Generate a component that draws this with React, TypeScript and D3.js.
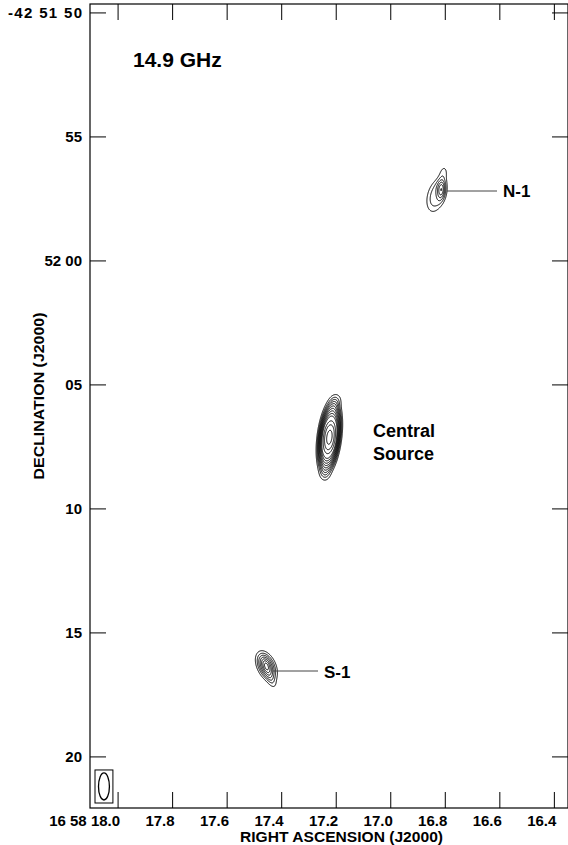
import React, { useMemo } from 'react';
import * as d3 from 'd3';

const W = 568;
const H = 845;

// Axis data
const RA_TICKS = [18.0, 17.8, 17.6, 17.4, 17.2, 17.0, 16.8, 16.6, 16.4];
const RA_TICK_LABELS = ['16 58 18.0', '17.8', '17.6', '17.4', '17.2', '17.0', '16.8', '16.6', '16.4'];
// Declination expressed as arcsec below -42 51 00
const DEC_TICKS = [50, 55, 60, 65, 70, 75, 80];
const DEC_TICK_LABELS = ['-42 51 50', '55', '52 00', '05', '10', '15', '20'];
const RA_DOMAIN = [18.103, 16.35];
const DEC_DOMAIN = [49.64, 82.06];
const DEC0_DEG = -42.86;

const CONTOUR_LEVELS = [1, 2, 3, 4, 5, 6, 7, 8, 9, 10, 12, 14, 17];

// Source centres
const SOURCE_NAMES = ['N-1', 'Central Source', 'S-1'];
const SOURCE_RA = [16.815, 17.226, 17.457];
const SOURCE_DEC = [57.1, 67.1, 76.33];

// Emission components (offsets & sizes in arcsec, pa in deg N->E)
const N1_COMPONENTS = [
  { amp: 4.0, dE: 0, dN: 0, major: 0.28, minor: 0.12, pa: -5, shape: 1 },
  { amp: 2.3, dE: 0.22, dN: -0.26, major: 0.48, minor: 0.25, pa: -15, shape: 2 },
  { amp: 1.3, dE: -0.08, dN: 0.65, major: 0.24, minor: 0.13, pa: -10, shape: 1 },
];
const CENTRAL_COMPONENTS = [
  { amp: 10, dE: 0, dN: 0, major: 0.97, minor: 0.3, pa: -7, shape: 2.5 },
  { amp: 9, dE: 0, dN: 0, major: 0.4, minor: 0.15, pa: -7, shape: 1 },
  { amp: 1.5, dE: -0.26, dN: 1.45, major: 0.22, minor: 0.16, pa: -20, shape: 1 },
  { amp: 1.2, dE: 0.18, dN: -1.5, major: 0.2, minor: 0.16, pa: 0, shape: 1 },
];
const S1_COMPONENTS = [
  { amp: 5, dE: 0, dN: 0, major: 0.4, minor: 0.23, pa: 25, shape: 1.5 },
  { amp: 2.5, dE: 0, dN: 0, major: 0.2, minor: 0.1, pa: 20, shape: 1 },
  { amp: 1.5, dE: -0.2, dN: -0.58, major: 0.25, minor: 0.12, pa: 25, shape: 1 },
];
const SOURCE_COMPONENTS = [N1_COMPONENTS, CENTRAL_COMPONENTS, S1_COMPONENTS];

// Restoring beam (arcsec)
const BEAM_MAJOR = 1.09;
const BEAM_MINOR = 0.44;
const BEAM_PA = 0;

const FONT = '"Liberation Sans", Arial, Helvetica, sans-serif';

const LEFT = 90, RIGHT = 568, TOP = 4, BOTTOM = 808;

export default function App() {
  const x = d3.scaleLinear().domain(RA_DOMAIN).range([LEFT, RIGHT]);
  const y = d3.scaleLinear().domain(DEC_DOMAIN).range([TOP, BOTTOM]);
  const pxPerArcsec = y(1) - y(0);
  const cosd = Math.cos((DEC0_DEG * Math.PI) / 180);

  const contourPaths = useMemo(() => {
    const out: string[] = [];
    SOURCE_COMPONENTS.forEach((comps, si) => {
      const ra0 = SOURCE_RA[si];
      const dec0 = SOURCE_DEC[si];
      const half = 2.6;
      const step = 0.02;
      const n = Math.round((2 * half) / step) + 1;
      const values = new Array(n * n);
      for (let j = 0; j < n; j++) {
        const dN = half - j * step;
        for (let i = 0; i < n; i++) {
          const dE = half - i * step;
          let s = 0;
          for (const c of comps) {
            const pa = (c.pa * Math.PI) / 180;
            const a = dN - c.dN;
            const b = dE - c.dE;
            const v = a * Math.cos(pa) + b * Math.sin(pa);
            const u = -a * Math.sin(pa) + b * Math.cos(pa);
            const q = 0.5 * ((u * u) / (c.minor * c.minor) + (v * v) / (c.major * c.major));
            s += c.amp * Math.exp(-Math.pow(q, c.shape));
          }
          values[j * n + i] = s;
        }
      }
      const polys = d3.contours().size([n, n]).thresholds(CONTOUR_LEVELS)(values);
      const proj = d3.geoTransform({
        point(px: number, py: number) {
          const dE = half - px * step;
          const dN = half - py * step;
          (this as any).stream.point(x(ra0 + dE / (15 * cosd)), y(dec0 - dN));
        },
      });
      const path = d3.geoPath(proj as any);
      polys.forEach((p) => {
        const d = path(p as any);
        if (d) out.push(d);
      });
    });
    return out;
  }, []);

  const tickLen = 16;
  const beamRx = (BEAM_MINOR / 2) * pxPerArcsec;
  const beamRy = (BEAM_MAJOR / 2) * pxPerArcsec;
  const boxW = 2 * beamRx + 7;
  const boxH = 2 * beamRy + 6;
  const boxX = LEFT + 5;
  const boxY = BOTTOM - 5 - boxH;

  return (
    <svg width={W} height={H} style={{ position: 'absolute', left: 0, top: 0, background: '#fff' }}
      fontFamily={FONT} fontWeight="bold">
      <rect x={0} y={0} width={W} height={H} fill="#fff" />
      {/* frame */}
      <rect x={LEFT} y={TOP} width={RIGHT - LEFT} height={BOTTOM - TOP} fill="none" stroke="#000" strokeWidth={1.2} />
      {/* RA ticks */}
      {RA_TICKS.map((t, i) => (
        <g key={'ra' + i}>
          <line x1={x(t)} x2={x(t)} y1={BOTTOM} y2={BOTTOM - tickLen} stroke="#000" strokeWidth={1} />
          <line x1={x(t)} x2={x(t)} y1={TOP} y2={TOP + tickLen} stroke="#000" strokeWidth={1} />
          <text x={x(t) + 2} y={826} fontSize={15} textAnchor="end" fill="#000">{RA_TICK_LABELS[i]}</text>
        </g>
      ))}
      {/* Dec ticks */}
      {DEC_TICKS.map((t, i) => (
        <g key={'dec' + i}>
          <line x1={LEFT} x2={LEFT + tickLen} y1={y(t)} y2={y(t)} stroke="#000" strokeWidth={1} />
          <line x1={RIGHT - tickLen} x2={RIGHT} y1={y(t)} y2={y(t)} stroke="#000" strokeWidth={1} />
          <text x={82} y={y(t) + 5.5} fontSize={15} textAnchor="end" fill="#000"
            {...(i === 0 ? { textLength: 74, lengthAdjust: 'spacing' } : {})}>{DEC_TICK_LABELS[i]}</text>
        </g>
      ))}
      {/* axis titles */}
      <text x={240} y={842} fontSize={14} textLength={203} lengthAdjust="spacingAndGlyphs" fill="#000">RIGHT ASCENSION (J2000)</text>
      <text transform="translate(44,396) rotate(-90)" fontSize={15} textAnchor="middle" textLength={167}
        lengthAdjust="spacingAndGlyphs" fill="#000">DECLINATION (J2000)</text>
      {/* frequency label */}
      <text x={133} y={67} fontSize={21} fill="#000">14.9 GHz</text>
      {/* contours */}
      <g fill="none" stroke="#000" strokeWidth={1}>
        {contourPaths.map((d, i) => (
          <path key={i} d={d} />
        ))}
      </g>
      {/* annotations */}
      <line x1={447} x2={497} y1={191} y2={191} stroke="#444" strokeWidth={1} />
      <text x={503} y={197} fontSize={17} fill="#000">{SOURCE_NAMES[0]}</text>
      <text x={373} y={437} fontSize={18} fill="#000">Central</text>
      <text x={373} y={460} fontSize={18} fill="#000">Source</text>
      <line x1={273} x2={318} y1={671} y2={671} stroke="#444" strokeWidth={1} />
      <text x={324} y={678} fontSize={17} fill="#000">{SOURCE_NAMES[2]}</text>
      {/* beam */}
      <rect x={boxX} y={boxY} width={boxW} height={boxH} fill="none" stroke="#000" strokeWidth={1} />
      <ellipse cx={boxX + boxW / 2} cy={boxY + boxH / 2} rx={beamRx} ry={beamRy}
        transform={`rotate(${-BEAM_PA},${boxX + boxW / 2},${boxY + boxH / 2})`}
        fill="none" stroke="#000" strokeWidth={1.3} />
    </svg>
  );
}
